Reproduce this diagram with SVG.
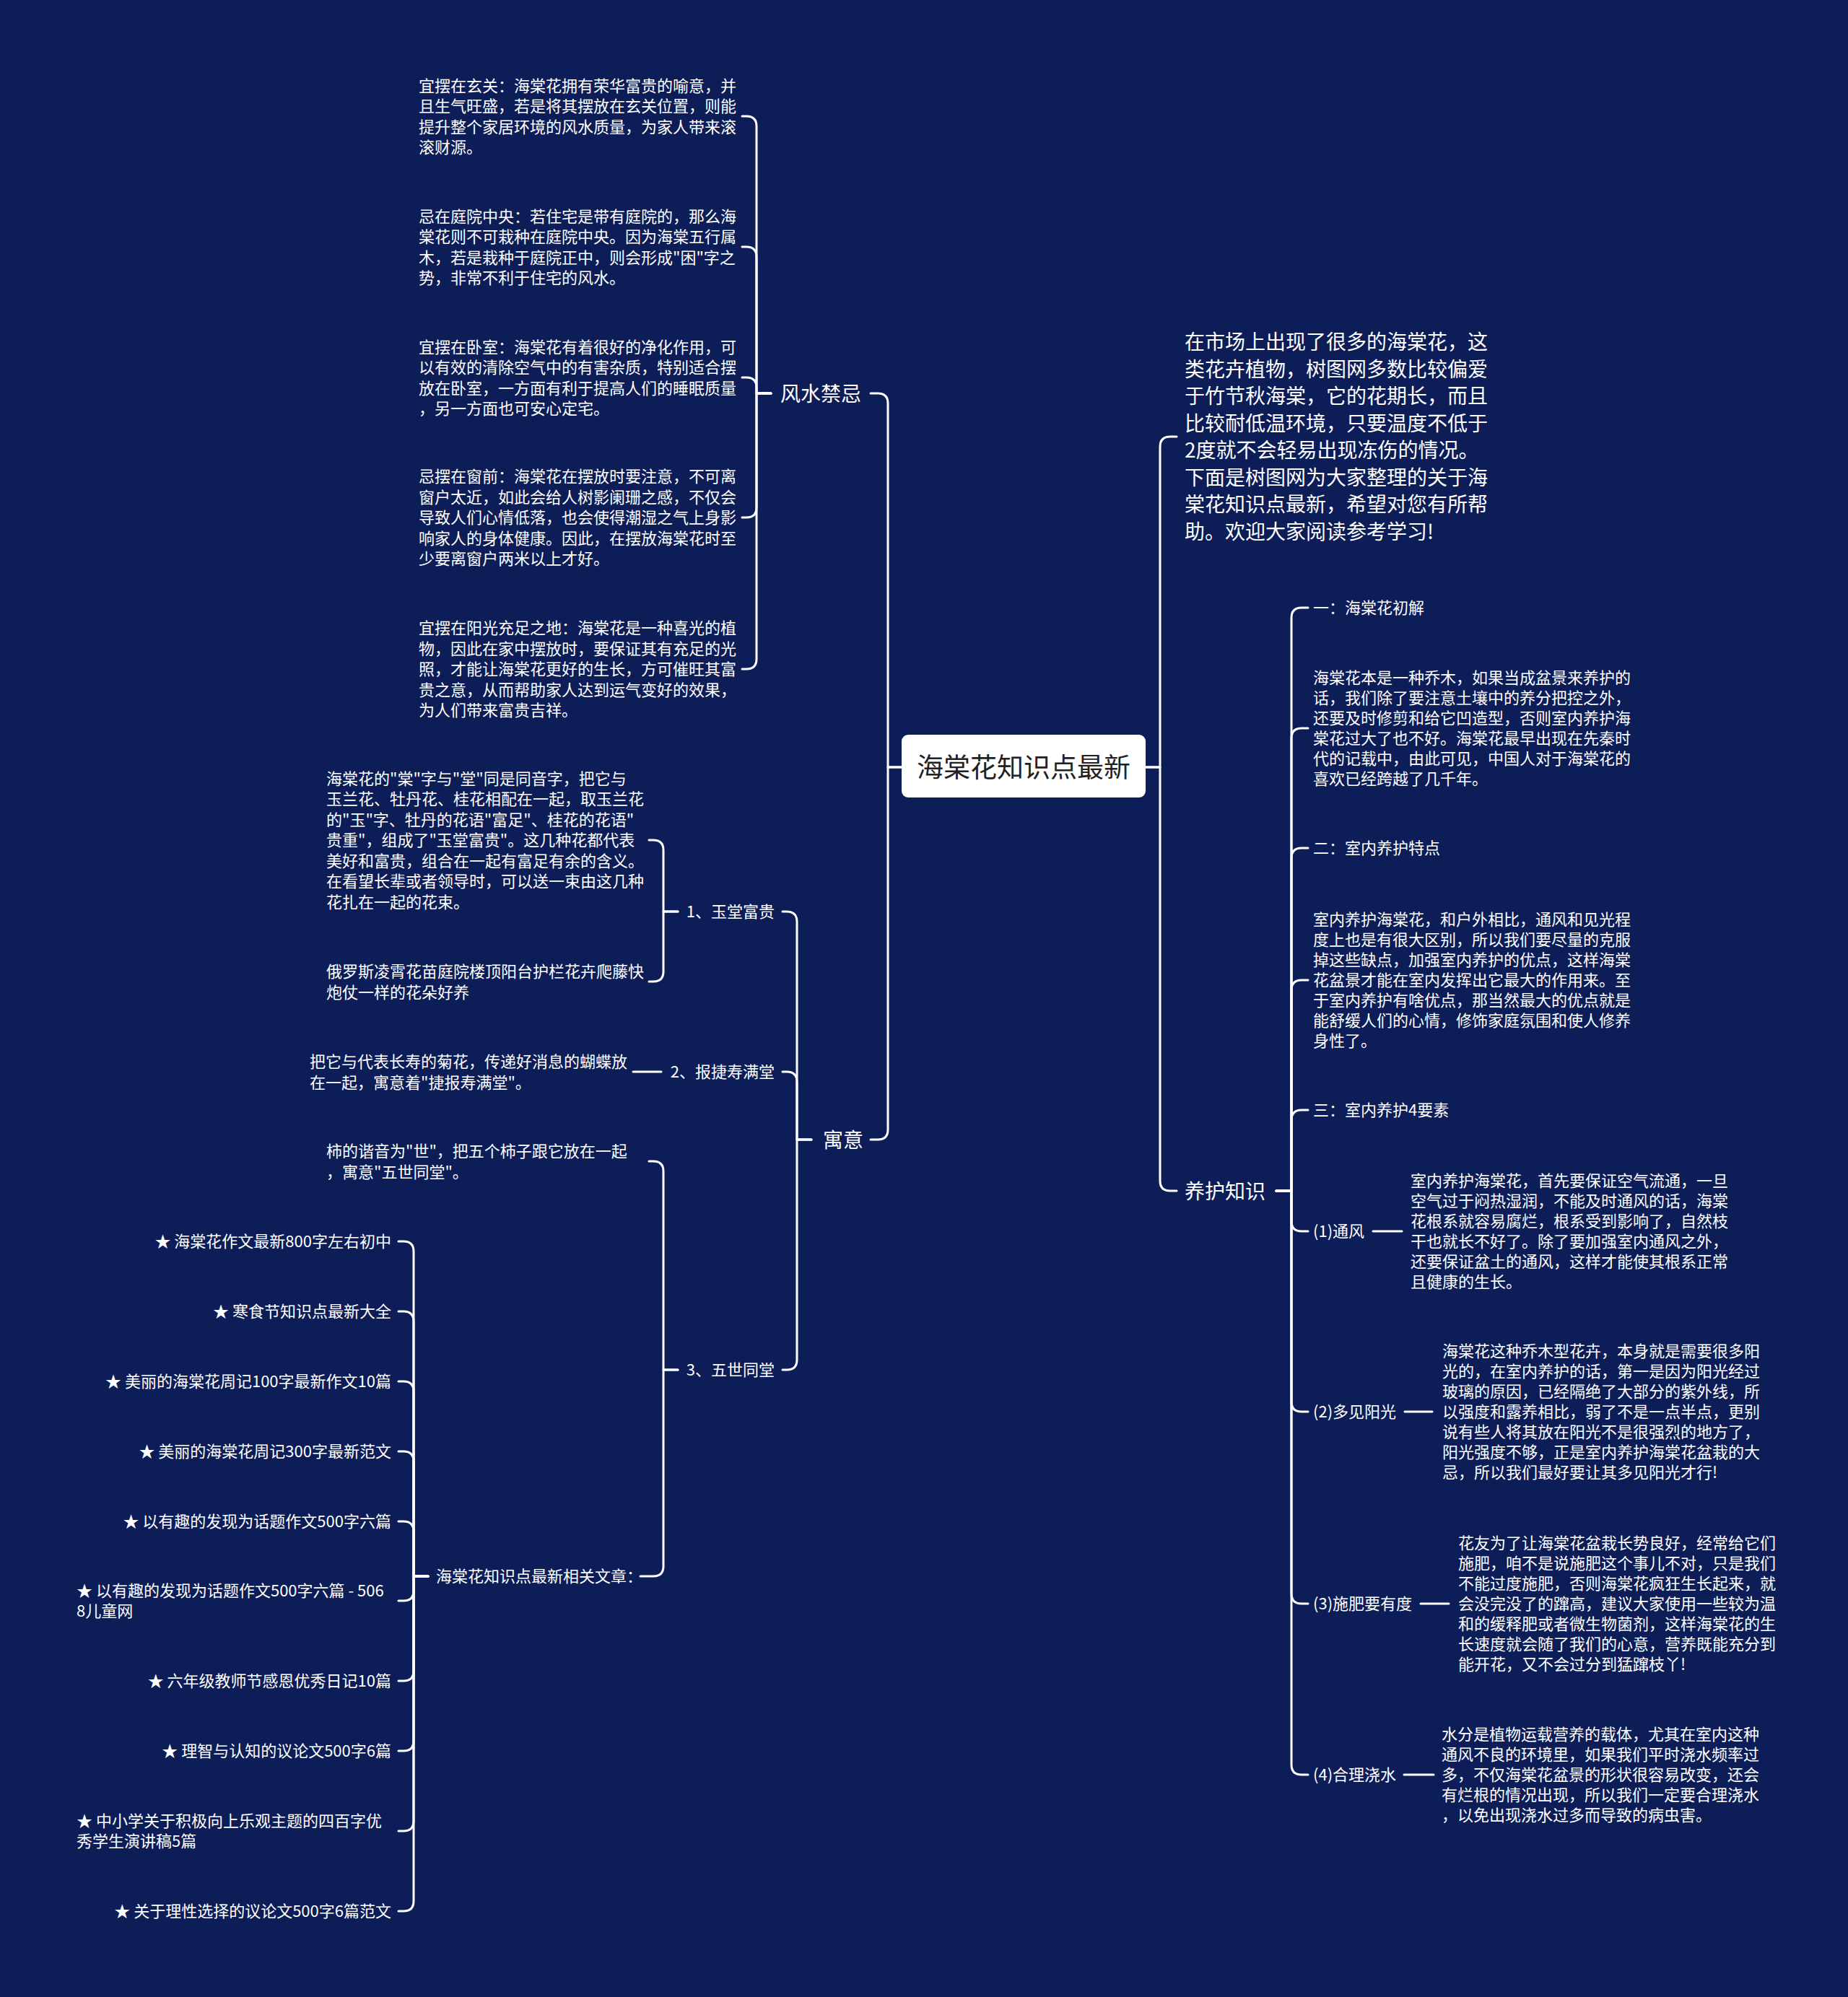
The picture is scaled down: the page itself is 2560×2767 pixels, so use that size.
<svg xmlns="http://www.w3.org/2000/svg" width="2560" height="2767" viewBox="0 0 2560 2767">
<style>
.ln{fill:none;stroke:#ffffff;stroke-width:3;stroke-linecap:round;stroke-linejoin:round}
.t{font-family:"Noto Sans CJK SC","Noto Sans",sans-serif;fill:#ffffff;font-size:22px}
.t28{font-size:28px}
.ctr{font-family:"Noto Sans CJK SC","Noto Sans",sans-serif;fill:#222222;font-size:37px}
.box{fill:#ffffff}
</style>
<rect x="0" y="0" width="2560" height="2767" fill="#0c1d58"/>
<g id="connectors">
<path class="ln" d="M1587,1063 H1607 V619 Q1607,605 1621,605 H1630"/>
<path class="ln" d="M1587,1063 H1607 V1636 Q1607,1650 1621,1650 H1630"/>
<path class="ln" d="M1249,1063 H1230 V559 Q1230,545 1216,545 H1206"/>
<path class="ln" d="M1249,1063 H1230 V1565 Q1230,1579 1216,1579 H1206"/>
<path class="ln" d="M1768,1650 H1789 V856 Q1789,842 1803,842 H1812"/>
<path class="ln" d="M1768,1650 H1789 V1023 Q1789,1009 1803,1009 H1812"/>
<path class="ln" d="M1768,1650 H1789 V1189 Q1789,1175 1803,1175 H1812"/>
<path class="ln" d="M1768,1650 H1789 V1372 Q1789,1358 1803,1358 H1812"/>
<path class="ln" d="M1768,1650 H1789 V1552 Q1789,1538 1803,1538 H1812"/>
<path class="ln" d="M1768,1650 H1789 V1692 Q1789,1706 1803,1706 H1812"/>
<path class="ln" d="M1768,1650 H1789 V1942 Q1789,1956 1803,1956 H1812"/>
<path class="ln" d="M1768,1650 H1789 V2208 Q1789,2222 1803,2222 H1812"/>
<path class="ln" d="M1768,1650 H1789 V2445 Q1789,2459 1803,2459 H1812"/>
<path class="ln" d="M1902,1706 H1942"/>
<path class="ln" d="M1946,1956 H1984"/>
<path class="ln" d="M1968,2222 H2007"/>
<path class="ln" d="M1945,2459 H1986"/>
<path class="ln" d="M1068,545 H1048 V175 Q1048,161 1034,161 H1028"/>
<path class="ln" d="M1068,545 H1048 V356 Q1048,342 1034,342 H1028"/>
<path class="ln" d="M1068,545 H1048 V537 Q1048,523 1034,523 H1028"/>
<path class="ln" d="M1068,545 H1048 V703 Q1048,717 1034,717 H1028"/>
<path class="ln" d="M1068,545 H1048 V913 Q1048,927 1034,927 H1028"/>
<path class="ln" d="M1124,1579 H1104 V1277 Q1104,1263 1090,1263 H1084"/>
<path class="ln" d="M1124,1579 H1104 V1499 Q1104,1485 1090,1485 H1084"/>
<path class="ln" d="M1124,1579 H1104 V1884 Q1104,1898 1090,1898 H1084"/>
<path class="ln" d="M939,1263 H919 V1178 Q919,1164 905,1164 H899"/>
<path class="ln" d="M939,1263 H919 V1346 Q919,1360 905,1360 H899"/>
<path class="ln" d="M916,1485 H877"/>
<path class="ln" d="M939,1898 H919 V1623 Q919,1609 905,1609 H899"/>
<path class="ln" d="M939,1898 H919 V2170 Q919,2184 905,2184 H887"/>
<path class="ln" d="M593,2184 H573 V1734 Q573,1720 559,1720 H552"/>
<path class="ln" d="M593,2184 H573 V1831 Q573,1817 559,1817 H552"/>
<path class="ln" d="M593,2184 H573 V1928 Q573,1914 559,1914 H552"/>
<path class="ln" d="M593,2184 H573 V2025 Q573,2011 559,2011 H552"/>
<path class="ln" d="M593,2184 H573 V2122 Q573,2108 559,2108 H552"/>
<path class="ln" d="M593,2184 H573 V2204 Q573,2218 559,2218 H552"/>
<path class="ln" d="M593,2184 H573 V2315 Q573,2329 559,2329 H552"/>
<path class="ln" d="M593,2184 H573 V2412 Q573,2426 559,2426 H552"/>
<path class="ln" d="M593,2184 H573 V2523 Q573,2537 559,2537 H552"/>
<path class="ln" d="M593,2184 H573 V2634 Q573,2648 559,2648 H552"/>
</g>
<g id="root">
<rect class="box" x="1249" y="1018" width="338" height="87" rx="9"/>
<text class="ctr" x="1418" y="1077" text-anchor="middle">海棠花知识点最新</text>
</g>
<g id="intro">
<text class="t t28" x="1641" y="484.4"><tspan x="1641">在市场上出现了很多的海棠花，这</tspan><tspan x="1641" dy="37.5">类花卉植物，树图网多数比较偏爱</tspan><tspan x="1641" dy="37.5">于竹节秋海棠，它的花期长，而且</tspan><tspan x="1641" dy="37.5">比较耐低温环境，只要温度不低于</tspan><tspan x="1641" dy="37.5">2度就不会轻易出现冻伤的情况。</tspan><tspan x="1641" dy="37.5">下面是树图网为大家整理的关于海</tspan><tspan x="1641" dy="37.5">棠花知识点最新，希望对您有所帮</tspan><tspan x="1641" dy="37.5">助。欢迎大家阅读参考学习!</tspan></text>
</g>
<g id="yanghu"><text class="t t28" x="1641" y="1661">养护知识</text></g>
<g id="y1"><text class="t" x="1819" y="850.4">一：海棠花初解</text></g>
<g id="y1p"><text class="t" x="1819" y="947.4"><tspan x="1819">海棠花本是一种乔木，如果当成盆景来养护的</tspan><tspan x="1819" dy="28">话，我们除了要注意土壤中的养分把控之外，</tspan><tspan x="1819" dy="28">还要及时修剪和给它凹造型，否则室内养护海</tspan><tspan x="1819" dy="28">棠花过大了也不好。海棠花最早出现在先秦时</tspan><tspan x="1819" dy="28">代的记载中，由此可见，中国人对于海棠花的</tspan><tspan x="1819" dy="28">喜欢已经跨越了几千年。</tspan></text></g>
<g id="y2"><text class="t" x="1819" y="1183.4">二：室内养护特点</text></g>
<g id="y2p"><text class="t" x="1819" y="1282.4"><tspan x="1819">室内养护海棠花，和户外相比，通风和见光程</tspan><tspan x="1819" dy="28">度上也是有很大区别，所以我们要尽量的克服</tspan><tspan x="1819" dy="28">掉这些缺点，加强室内养护的优点，这样海棠</tspan><tspan x="1819" dy="28">花盆景才能在室内发挥出它最大的作用来。至</tspan><tspan x="1819" dy="28">于室内养护有啥优点，那当然最大的优点就是</tspan><tspan x="1819" dy="28">能舒缓人们的心情，修饰家庭氛围和使人修养</tspan><tspan x="1819" dy="28">身性了。</tspan></text></g>
<g id="y3"><text class="t" x="1819" y="1546.4">三：室内养护4要素</text></g>
<g id="ys1"><text class="t" x="1819" y="1714.4">(1)通风</text></g>
<g id="ys1p"><text class="t" x="1954" y="1644.4"><tspan x="1954">室内养护海棠花，首先要保证空气流通，一旦</tspan><tspan x="1954" dy="28">空气过于闷热湿润，不能及时通风的话，海棠</tspan><tspan x="1954" dy="28">花根系就容易腐烂，根系受到影响了，自然枝</tspan><tspan x="1954" dy="28">干也就长不好了。除了要加强室内通风之外，</tspan><tspan x="1954" dy="28">还要保证盆土的通风，这样才能使其根系正常</tspan><tspan x="1954" dy="28">且健康的生长。</tspan></text></g>
<g id="ys2"><text class="t" x="1819" y="1964.4">(2)多见阳光</text></g>
<g id="ys2p"><text class="t" x="1998" y="1880.4"><tspan x="1998">海棠花这种乔木型花卉，本身就是需要很多阳</tspan><tspan x="1998" dy="28">光的，在室内养护的话，第一是因为阳光经过</tspan><tspan x="1998" dy="28">玻璃的原因，已经隔绝了大部分的紫外线，所</tspan><tspan x="1998" dy="28">以强度和露养相比，弱了不是一点半点，更别</tspan><tspan x="1998" dy="28">说有些人将其放在阳光不是很强烈的地方了，</tspan><tspan x="1998" dy="28">阳光强度不够，正是室内养护海棠花盆栽的大</tspan><tspan x="1998" dy="28">忌，所以我们最好要让其多见阳光才行!</tspan></text></g>
<g id="ys3"><text class="t" x="1819" y="2230.4">(3)施肥要有度</text></g>
<g id="ys3p"><text class="t" x="2020" y="2146.4"><tspan x="2020">花友为了让海棠花盆栽长势良好，经常给它们</tspan><tspan x="2020" dy="28">施肥，咱不是说施肥这个事儿不对，只是我们</tspan><tspan x="2020" dy="28">不能过度施肥，否则海棠花疯狂生长起来，就</tspan><tspan x="2020" dy="28">会没完没了的蹿高，建议大家使用一些较为温</tspan><tspan x="2020" dy="28">和的缓释肥或者微生物菌剂，这样海棠花的生</tspan><tspan x="2020" dy="28">长速度就会随了我们的心意，营养既能充分到</tspan><tspan x="2020" dy="28">能开花，又不会过分到猛蹿枝丫!</tspan></text></g>
<g id="ys4"><text class="t" x="1819" y="2467.4">(4)合理浇水</text></g>
<g id="ys4p"><text class="t" x="1997" y="2411.4"><tspan x="1997">水分是植物运载营养的载体，尤其在室内这种</tspan><tspan x="1997" dy="28">通风不良的环境里，如果我们平时浇水频率过</tspan><tspan x="1997" dy="28">多，不仅海棠花盆景的形状很容易改变，还会</tspan><tspan x="1997" dy="28">有烂根的情况出现，所以我们一定要合理浇水</tspan><tspan x="1997" dy="28">，以免出现浇水过多而导致的病虫害。</tspan></text></g>
<g id="fengshui"><text class="t t28" x="1081" y="556">风水禁忌</text></g>
<g id="fs1"><text class="t" x="580" y="126.7"><tspan x="580">宜摆在玄关：海棠花拥有荣华富贵的喻意，并</tspan><tspan x="580" dy="28.5">且生气旺盛，若是将其摆放在玄关位置，则能</tspan><tspan x="580" dy="28.5">提升整个家居环境的风水质量，为家人带来滚</tspan><tspan x="580" dy="28.5">滚财源。</tspan></text></g>
<g id="fs2"><text class="t" x="580" y="307.7"><tspan x="580">忌在庭院中央：若住宅是带有庭院的，那么海</tspan><tspan x="580" dy="28.5">棠花则不可栽种在庭院中央。因为海棠五行属</tspan><tspan x="580" dy="28.5">木，若是栽种于庭院正中，则会形成"困"字之</tspan><tspan x="580" dy="28.5">势，非常不利于住宅的风水。</tspan></text></g>
<g id="fs3"><text class="t" x="580" y="488.7"><tspan x="580">宜摆在卧室：海棠花有着很好的净化作用，可</tspan><tspan x="580" dy="28.5">以有效的清除空气中的有害杂质，特别适合摆</tspan><tspan x="580" dy="28.5">放在卧室，一方面有利于提高人们的睡眠质量</tspan><tspan x="580" dy="28.5">，另一方面也可安心定宅。</tspan></text></g>
<g id="fs4"><text class="t" x="580" y="668.4"><tspan x="580">忌摆在窗前：海棠花在摆放时要注意，不可离</tspan><tspan x="580" dy="28.5">窗户太近，如此会给人树影阑珊之感，不仅会</tspan><tspan x="580" dy="28.5">导致人们心情低落，也会使得潮湿之气上身影</tspan><tspan x="580" dy="28.5">响家人的身体健康。因此，在摆放海棠花时至</tspan><tspan x="580" dy="28.5">少要离窗户两米以上才好。</tspan></text></g>
<g id="fs5"><text class="t" x="580" y="878.4"><tspan x="580">宜摆在阳光充足之地：海棠花是一种喜光的植</tspan><tspan x="580" dy="28.5">物，因此在家中摆放时，要保证其有充足的光</tspan><tspan x="580" dy="28.5">照，才能让海棠花更好的生长，方可催旺其富</tspan><tspan x="580" dy="28.5">贵之意，从而帮助家人达到运气变好的效果，</tspan><tspan x="580" dy="28.5">为人们带来富贵吉祥。</tspan></text></g>
<g id="yuyi"><text class="t t28" x="1140" y="1590">寓意</text></g>
<g id="yy1"><text class="t" x="1073" y="1271.4" text-anchor="end">1、玉堂富贵</text></g>
<g id="yy1p"><text class="t" x="452" y="1086.9"><tspan x="452">海棠花的"棠"字与"堂"同是同音字，把它与</tspan><tspan x="452" dy="28.5">玉兰花、牡丹花、桂花相配在一起，取玉兰花</tspan><tspan x="452" dy="28.5">的"玉"字、牡丹的花语"富足"、桂花的花语"</tspan><tspan x="452" dy="28.5">贵重"，组成了"玉堂富贵"。这几种花都代表</tspan><tspan x="452" dy="28.5">美好和富贵，组合在一起有富足有余的含义。</tspan><tspan x="452" dy="28.5">在看望长辈或者领导时，可以送一束由这几种</tspan><tspan x="452" dy="28.5">花扎在一起的花束。</tspan></text></g>
<g id="yy1q"><text class="t" x="452" y="1354.2"><tspan x="452">俄罗斯凌霄花苗庭院楼顶阳台护栏花卉爬藤快</tspan><tspan x="452" dy="28.5">炮仗一样的花朵好养</tspan></text></g>
<g id="yy2"><text class="t" x="1073" y="1493.4" text-anchor="end">2、报捷寿满堂</text></g>
<g id="yy2p"><text class="t" x="429" y="1479.2"><tspan x="429">把它与代表长寿的菊花，传递好消息的蝴蝶放</tspan><tspan x="429" dy="28.5">在一起，寓意着"捷报寿满堂"。</tspan></text></g>
<g id="yy3"><text class="t" x="1073" y="1906.4" text-anchor="end">3、五世同堂</text></g>
<g id="yy3p"><text class="t" x="452" y="1603.2"><tspan x="452">柿的谐音为"世"，把五个柿子跟它放在一起</tspan><tspan x="452" dy="28.5">，寓意"五世同堂"。</tspan></text></g>
<g id="related"><text class="t" x="604" y="2192.4">海棠花知识点最新相关文章：</text></g>
<g id="r1"><text class="t" x="542" y="1728.4" text-anchor="end">★ 海棠花作文最新800字左右初中</text></g>
<g id="r2"><text class="t" x="542" y="1825.4" text-anchor="end">★ 寒食节知识点最新大全</text></g>
<g id="r3"><text class="t" x="542" y="1922.4" text-anchor="end">★ 美丽的海棠花周记100字最新作文10篇</text></g>
<g id="r4"><text class="t" x="542" y="2019.4" text-anchor="end">★ 美丽的海棠花周记300字最新范文</text></g>
<g id="r5"><text class="t" x="542" y="2116.4" text-anchor="end">★ 以有趣的发现为话题作文500字六篇</text></g>
<g id="r6"><text class="t" x="106" y="2212.4"><tspan x="106">★ 以有趣的发现为话题作文500字六篇 - 506</tspan><tspan x="106" dy="28">8儿童网</tspan></text></g>
<g id="r7"><text class="t" x="542" y="2337.4" text-anchor="end">★ 六年级教师节感恩优秀日记10篇</text></g>
<g id="r8"><text class="t" x="542" y="2434.4" text-anchor="end">★ 理智与认知的议论文500字6篇</text></g>
<g id="r9"><text class="t" x="106" y="2531.4"><tspan x="106">★ 中小学关于积极向上乐观主题的四百字优</tspan><tspan x="106" dy="28">秀学生演讲稿5篇</tspan></text></g>
<g id="r10"><text class="t" x="542" y="2656.4" text-anchor="end">★ 关于理性选择的议论文500字6篇范文</text></g>
</svg>
